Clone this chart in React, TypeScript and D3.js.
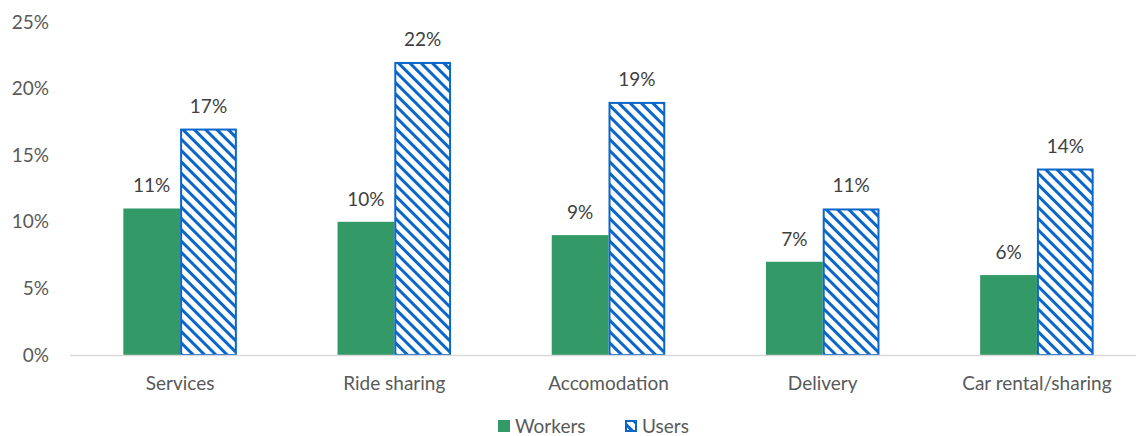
import { useRef, useEffect } from "react";
import * as d3 from "d3";

const categories = ["Services", "Ride sharing", "Accomodation", "Delivery", "Car rental/sharing"];
const workers = [11, 10, 9, 7, 6];
const users = [17, 22, 19, 11, 14];
const yTicks = [0, 5, 10, 15, 20, 25];
const seriesNames = ["Workers", "Users"];

const green = "#339966";
const blue = "#0A66C8";
const textColor = "#595959";
const font = "Lato, 'Open Sans', sans-serif";
const fs = 19;

export default function App() {
  const svgRef = useRef(null);
  const width = 1136;
  const height = 436;

  useEffect(() => {
    const svg = d3.select(svgRef.current);
    svg.selectAll("*").remove();

    const defs = svg.append("defs");
    const pat = defs
      .append("pattern")
      .attr("id", "hatch")
      .attr("patternUnits", "userSpaceOnUse")
      .attr("width", 8)
      .attr("height", 8)
      .attr("patternTransform", "rotate(45)");
    pat.append("rect").attr("width", 8).attr("height", 8).attr("fill", "#fff");
    pat.append("rect").attr("x", 0).attr("y", 0).attr("width", 8).attr("height", 3).attr("fill", blue);

    const x = d3.scaleBand().domain(categories).range([73, 1144]).paddingInner(0.47).paddingOuter(0.235);
    const xi = d3.scaleBand().domain(seriesNames).range([0, x.bandwidth()]);
    const y = d3.scaleLinear().domain([0, 25]).range([355, 22]);

    // y tick labels
    svg
      .append("g")
      .selectAll("text")
      .data(yTicks)
      .join("text")
      .attr("x", 49)
      .attr("y", (d) => y(d))
      .attr("dy", "0.35em")
      .attr("text-anchor", "end")
      .attr("fill", textColor)
      .attr("font-family", font)
      .attr("font-size", fs)
      .text((d) => `${d}%`);

    const groups = svg
      .append("g")
      .selectAll("g")
      .data(categories)
      .join("g")
      .attr("transform", (d) => `translate(${x(d)},0)`);

    groups
      .append("rect")
      .attr("x", xi("Workers")!)
      .attr("y", (_, i) => y(workers[i]))
      .attr("width", xi.bandwidth())
      .attr("height", (_, i) => y(0) - y(workers[i]))
      .attr("fill", green);

    groups
      .append("rect")
      .attr("x", xi("Users")! + 1)
      .attr("y", (_, i) => y(users[i]) + 1)
      .attr("width", xi.bandwidth() - 2)
      .attr("height", (_, i) => y(0) - y(users[i]) - 1)
      .attr("fill", "url(#hatch)")
      .attr("stroke", blue)
      .attr("stroke-width", 2);

    const label = (sel: any, name: string, vals: number[]) =>
      sel
        .append("text")
        .attr("x", xi(name)! + xi.bandwidth() / 2)
        .attr("y", (_: any, i: number) => y(vals[i]) - 16)
        .attr("text-anchor", "middle")
        .attr("fill", "#404040")
        .attr("font-family", font)
        .attr("font-size", fs)
        .text((_: any, i: number) => `${vals[i]}%`);
    label(groups, "Workers", workers);
    label(groups, "Users", users);

    // x axis line
    svg
      .append("line")
      .attr("x1", 70)
      .attr("x2", 1144)
      .attr("y1", y(0) + 0.5)
      .attr("y2", y(0) + 0.5)
      .attr("stroke", "#d9d9d9")
      .attr("stroke-width", 1.5);

    svg
      .append("g")
      .selectAll("text")
      .data(categories)
      .join("text")
      .attr("x", (d) => x(d)! + x.bandwidth() / 2)
      .attr("y", 390)
      .attr("text-anchor", "middle")
      .attr("fill", textColor)
      .attr("font-family", font)
      .attr("font-size", fs)
      .text((d) => d);

    // legend
    const legend = svg.append("g");
    const items = [
      { name: "Workers", x: 498 },
      { name: "Users", x: 625 },
    ];
    items.forEach((it, i) => {
      if (i === 0) {
        legend.append("rect").attr("x", it.x).attr("y", 420).attr("width", 12).attr("height", 12).attr("fill", green);
      } else {
        legend
          .append("rect")
          .attr("x", it.x + 1)
          .attr("y", 421)
          .attr("width", 10)
          .attr("height", 10)
          .attr("fill", "url(#hatch)")
          .attr("stroke", blue)
          .attr("stroke-width", 2);
      }
      legend
        .append("text")
        .attr("x", it.x + 17)
        .attr("y", 426)
        .attr("dy", "0.35em")
        .attr("fill", textColor)
        .attr("font-family", font)
        .attr("font-size", fs)
        .text(it.name);
    });
  }, []);

  return (
    <svg ref={svgRef} width={width} height={height} style={{ position: "absolute", left: 0, top: 0, background: "#fff" }} />
  );
}
